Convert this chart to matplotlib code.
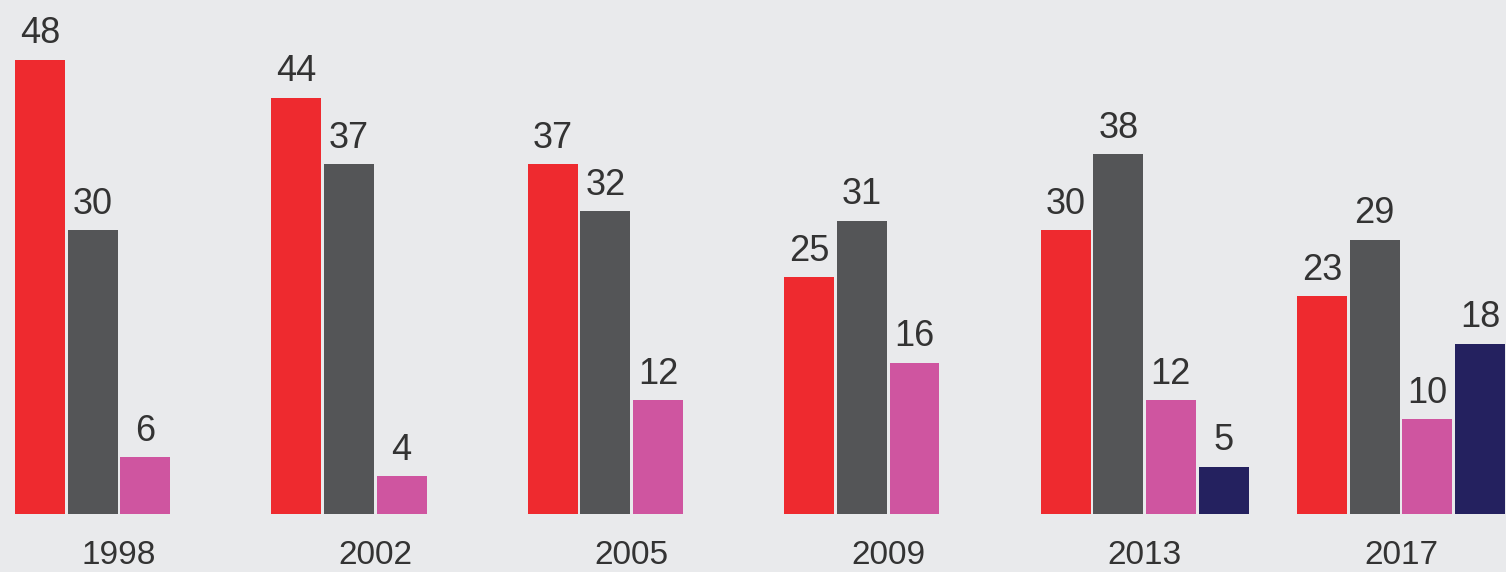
import numpy as np
from matplotlib import pyplot as plt

years = ['1998', '2002', '2005', '2009', '2013', '2017']
red_vals = [48, 44, 37, 25, 30, 23]
grey_vals = [30, 37, 32, 31, 38, 29]
pink_vals = [6, 4, 12, 16, 12, 10]
navy_vals = [None, None, None, None, 5, 18]

series = [red_vals, grey_vals, pink_vals, navy_vals]
colors = ['#ee2a2f', '#545557', '#cf55a0', '#24215f']

bg = '#e9eaec'
fig = plt.figure(figsize=(15.06, 5.72), dpi=100, facecolor=bg)
ax = fig.add_axes([0, 58 / 572, 1, 511 / 572])
ax.set_facecolor(bg)

group_step = 4.875
width = 0.95
group_x = np.arange(len(years)) * group_step

for j, (vals, col) in enumerate(zip(series, colors)):
    for i, v in enumerate(vals):
        if v is None:
            continue
        x = group_x[i] + j
        ax.bar(x, v, width=width, color=col, linewidth=0)
        ax.annotate(str(v), (x, v), xytext=(0, 6), textcoords='offset points',
                    ha='center', va='bottom', fontsize=26, color='#333333',
                    family='Liberation Sans')

ax.set_xlim(-0.76, 27.87)
ax.set_ylim(0, 54)
for s in ax.spines.values():
    s.set_visible(False)
ax.set_yticks([])
ax.set_xticks(group_x + 1.5)
ax.set_xticklabels(years, fontsize=24, color='#333333', family='Liberation Sans')
ax.tick_params(axis='x', length=0, pad=19)

fig.savefig('out.png', dpi=100, facecolor=bg)
